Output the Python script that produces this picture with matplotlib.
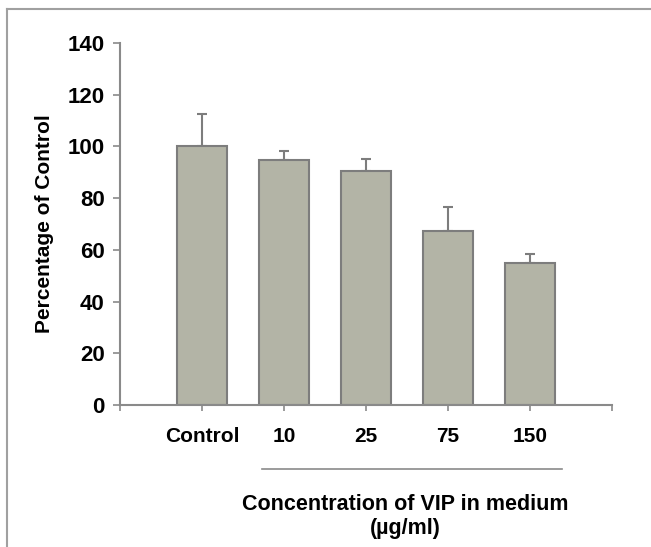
import matplotlib
matplotlib.use("Agg")
from matplotlib import pyplot as plt
from matplotlib.lines import Line2D
from matplotlib import transforms

plt.rcParams['font.family'] = ['Liberation Sans', 'DejaVu Sans']
plt.rcParams['font.weight'] = 'bold'

categories = ['Control', '10', '25', '75', '150']
values = [100.3, 94.7, 90.6, 67.4, 54.8]
errors = [12.2, 3.6, 4.4, 9.0, 3.6]
y_ticks = [0, 20, 40, 60, 80, 100, 120, 140]

BAR_COLOR = '#b3b4a6'
EDGE_COLOR = '#7d7d7d'
AXIS_COLOR = '#8a8a8a'

fig = plt.figure(figsize=(6.51, 5.47), dpi=100)
ax = fig.add_axes([0.1843, 0.2596, 0.940 - 0.1843, 0.9214 - 0.2596])

x = list(range(1, len(categories) + 1))
ax.bar(x, values, width=0.61, color=BAR_COLOR, edgecolor=EDGE_COLOR, linewidth=1.5, zorder=2)
ax.errorbar(x, values, yerr=[[0] * len(errors), errors], fmt='none',
            ecolor=EDGE_COLOR, elinewidth=1.5, capsize=3.6, capthick=1.5, zorder=1)

ax.set_xlim(0, 6)
ax.set_ylim(0, 140)
ax.set_yticks(y_ticks)
ax.set_xticks([0] + x + [6])
ax.set_xticklabels([''] + categories + [''])
ax.tick_params(axis='both', colors=AXIS_COLOR, labelcolor='black', width=1.2)
ax.tick_params(axis='y', length=5, labelsize=16, pad=6)
ax.tick_params(axis='x', length=4, labelsize=15, pad=12)

for side in ['top', 'right']:
    ax.spines[side].set_visible(False)
for side in ['left', 'bottom']:
    ax.spines[side].set_color(AXIS_COLOR)
    ax.spines[side].set_linewidth(1.5)

ax.set_ylabel('Percentage of Control', fontsize=15, fontweight='bold', labelpad=10)

# bracket line under concentrations and the group label
trans = transforms.blended_transform_factory(ax.transData, ax.transAxes)
ax.plot([1.73, 5.39], [-0.177, -0.177], transform=trans, color=AXIS_COLOR,
        linewidth=1.2, clip_on=False)
ax.text(3.48, -0.2735, 'Concentration of VIP in medium', transform=trans,
        ha='center', va='center', fontsize=15.5, fontweight='bold')
ax.text(3.48, -0.3425, '(\u00b5g/ml)', transform=trans,
        ha='center', va='center', fontsize=15.5, fontweight='bold')

# image frame (top and left border)
fig.add_artist(Line2D([7 / 651, 1], [1 - 9 / 547, 1 - 9 / 547], color='#a0a0a0', linewidth=1.5))
fig.add_artist(Line2D([7 / 651, 7 / 651], [0, 1 - 9 / 547], color='#a0a0a0', linewidth=1.5))

fig.savefig('out.png', dpi=100)
